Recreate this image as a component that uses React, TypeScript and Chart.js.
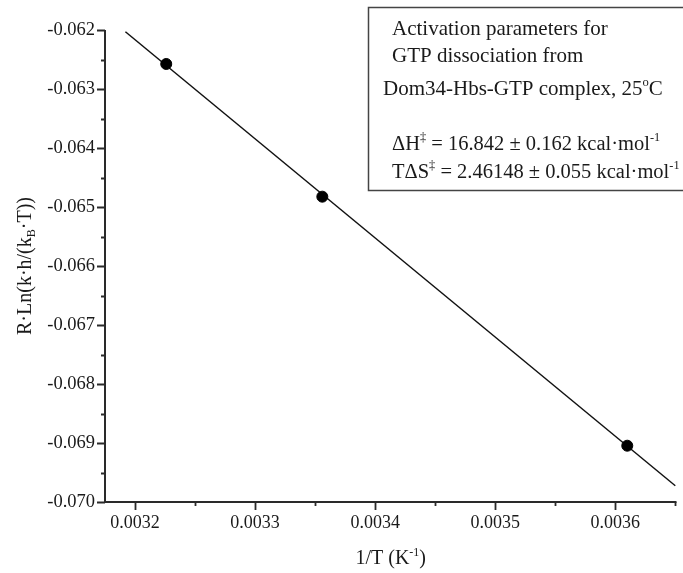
import React, { useEffect, useRef } from "react";
import { Chart, registerables } from "chart.js";

Chart.register(...registerables);

// Measured data: 1/T (K^-1) vs R·Ln(k·h/(kB·T))
const invT = [0.003226, 0.003356, 0.00361];
const lnVals = [-0.062576, -0.064825, -0.069046];

// Linear fit line end points
const fitX = [0.003192, 0.00365];
const fitY = [-0.06203, -0.069724];

// Axis ticks
const xTicks = [0.0032, 0.0033, 0.0034, 0.0035, 0.0036];
const xMinorTicks = [0.00325, 0.00335, 0.00345, 0.00355, 0.00365];
const yTicks = [-0.062, -0.063, -0.064, -0.065, -0.066, -0.067, -0.068, -0.069, -0.07];
const yMinorTicks = [-0.0625, -0.0635, -0.0645, -0.0655, -0.0665, -0.0675, -0.0685, -0.0695];

const xLabels = ["0.0032", "0.0033", "0.0034", "0.0035", "0.0036"];
const yLabels = ["-0.062", "-0.063", "-0.064", "-0.065", "-0.066", "-0.067", "-0.068", "-0.069", "-0.070"];

const FONT = '"Liberation Serif", "Times New Roman", serif';
const INK = "#1a1a1a";

type Seg = [string, "n" | "sup" | "sub"];

const boxLines: { x: number; y: number; size: number; segs: Seg[] }[] = [
  { x: 392, y: 35, size: 21, segs: [["Activation parameters for", "n"]] },
  { x: 392, y: 62, size: 21, segs: [["GTP dissociation from", "n"]] },
  { x: 383, y: 95, size: 21, segs: [["Dom34-Hbs-GTP complex, 25", "n"], ["o", "sup"], ["C", "n"]] },
  {
    x: 392,
    y: 150,
    size: 20.5,
    segs: [["\u0394H", "n"], ["\u2021", "sup"], [" = 16.842 \u00b1 0.162 kcal\u00b7mol", "n"], ["-1", "sup"]],
  },
  {
    x: 392,
    y: 178,
    size: 20.5,
    segs: [["T\u0394S", "n"], ["\u2021", "sup"], [" = 2.46148 \u00b1 0.055 kcal\u00b7mol", "n"], ["-1", "sup"]],
  },
];

const xTitle: Seg[] = [["1/T (K", "n"], ["-1", "sup"], [")", "n"]];
const yTitle: Seg[] = [["R\u00b7Ln(k\u00b7h/(k", "n"], ["B", "sub"], ["\u00b7T))", "n"]];

function richWidth(ctx: CanvasRenderingContext2D, segs: Seg[], size: number) {
  let w = 0;
  for (const [t, m] of segs) {
    const s = m === "n" ? size : size * 0.6;
    ctx.font = `${s}px ${FONT}`;
    w += ctx.measureText(t).width;
  }
  return w;
}

function drawRich(ctx: CanvasRenderingContext2D, x: number, y: number, segs: Seg[], size: number) {
  let cx = x;
  ctx.textBaseline = "alphabetic";
  ctx.textAlign = "left";
  for (const [t, m] of segs) {
    const s = m === "n" ? size : size * 0.6;
    const dy = m === "sup" ? -size * 0.42 : m === "sub" ? size * 0.22 : 0;
    ctx.font = `${s}px ${FONT}`;
    ctx.fillText(t, cx, y + dy);
    cx += ctx.measureText(t).width;
  }
}

const decorPlugin = {
  id: "decor",
  afterDraw(chart: any) {
    const ctx: CanvasRenderingContext2D = chart.ctx;
    const xs = chart.scales.x;
    const ys = chart.scales.y;
    const area = chart.chartArea;
    ctx.save();
    ctx.strokeStyle = "#2a2a2a";
    ctx.fillStyle = INK;
    // axis lines
    ctx.lineWidth = 2;
    ctx.beginPath();
    ctx.moveTo(area.left, area.top);
    ctx.lineTo(area.left, area.bottom);
    ctx.lineTo(area.right, area.bottom);
    ctx.stroke();
    // ticks
    ctx.lineWidth = 1.8;
    ctx.beginPath();
    for (const v of xTicks) {
      const p = Math.round(xs.getPixelForValue(v)) + 0.5;
      ctx.moveTo(p, area.bottom);
      ctx.lineTo(p, area.bottom + 8);
    }
    for (const v of xMinorTicks) {
      const p = Math.round(xs.getPixelForValue(v)) + 0.5;
      ctx.moveTo(p, area.bottom);
      ctx.lineTo(p, area.bottom + 4);
    }
    for (const v of yTicks) {
      const p = Math.round(ys.getPixelForValue(v)) + 0.5;
      ctx.moveTo(area.left, p);
      ctx.lineTo(area.left - 8, p);
    }
    for (const v of yMinorTicks) {
      const p = Math.round(ys.getPixelForValue(v)) + 0.5;
      ctx.moveTo(area.left, p);
      ctx.lineTo(area.left - 4, p);
    }
    ctx.stroke();

    // axis titles
    const tSize = 20;
    const xw = richWidth(ctx, xTitle, tSize);
    drawRich(ctx, (area.left + area.right) / 2 - xw / 2, 564, xTitle, tSize);
    ctx.save();
    ctx.translate(31, (area.top + area.bottom) / 2);
    ctx.rotate(-Math.PI / 2);
    const yw = richWidth(ctx, yTitle, tSize);
    drawRich(ctx, -yw / 2, 0, yTitle, tSize);
    ctx.restore();

    // annotation box
    ctx.lineWidth = 1.5;
    ctx.strokeStyle = "#444";
    ctx.strokeRect(368.5, 7.5, 330, 183);
    for (const line of boxLines) {
      drawRich(ctx, line.x, line.y, line.segs, line.size);
    }
    ctx.restore();
  },
};

export default function App() {
  const ref = useRef<HTMLCanvasElement | null>(null);
  useEffect(() => {
    if (!ref.current) return;
    const chart = new Chart(ref.current, {
      type: "scatter",
      data: {
        datasets: [
          {
            label: "data",
            data: invT.map((x, i) => ({ x, y: lnVals[i] })),
            backgroundColor: "#000",
            borderColor: "#000",
            pointRadius: 5.5,
            pointHoverRadius: 5.5,
            order: 0,
          },
          {
            label: "fit",
            type: "line",
            data: fitX.map((x, i) => ({ x, y: fitY[i] })),
            borderColor: "#111",
            borderWidth: 1.5,
            pointRadius: 0,
            fill: false,
            order: 1,
          } as any,
        ],
      },
      options: {
        animation: false,
        responsive: false,
        devicePixelRatio: 1,
        layout: { padding: { top: 30, left: 0, right: 0, bottom: 0 } },
        plugins: { legend: { display: false }, tooltip: { enabled: false } },
        events: [],
        scales: {
          x: {
            type: "linear",
            min: 0.003175,
            max: 0.003651,
            grid: { display: false, drawTicks: false },
            border: { display: false },
            afterBuildTicks: (s: any) => {
              s.ticks = xTicks.map((v) => ({ value: v }));
            },
            afterFit: (s: any) => {
              s.height = 71;
            },
            ticks: {
              autoSkip: false,
              maxRotation: 0,
              padding: 10,
              color: INK,
              font: { family: FONT, size: 18 },
              callback: (v: any) => {
                const i = xTicks.findIndex((t) => Math.abs(t - v) < 1e-9);
                return i >= 0 ? xLabels[i] : "";
              },
            },
          },
          y: {
            type: "linear",
            min: -0.07,
            max: -0.062,
            grid: { display: false, drawTicks: false },
            border: { display: false },
            afterBuildTicks: (s: any) => {
              s.ticks = yTicks.map((v) => ({ value: v }));
            },
            afterFit: (s: any) => {
              s.width = 105;
            },
            ticks: {
              autoSkip: false,
              padding: 10,
              color: INK,
              font: { family: FONT, size: 18.5 },
              callback: (v: any) => {
                const i = yTicks.findIndex((t) => Math.abs(t - v) < 1e-9);
                return i >= 0 ? yLabels[i] : "";
              },
            },
          },
        },
      },
      plugins: [decorPlugin],
    });
    return () => chart.destroy();
  }, []);
  return (
    <div style={{ position: "absolute", left: 0, top: 0, width: 683, height: 573, background: "#fff" }}>
      <canvas ref={ref} width={683} height={573} />
    </div>
  );
}
